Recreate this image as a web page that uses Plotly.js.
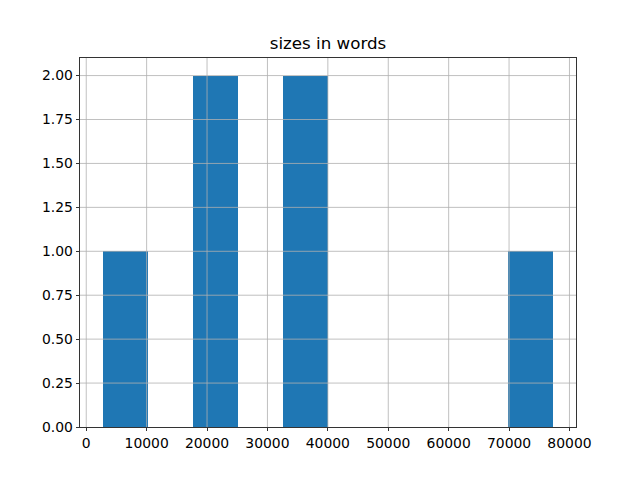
<!DOCTYPE html>
<html>
<head>
<meta charset="utf-8">
<script src="https://cdn.plot.ly/plotly-3.0.1.min.js"></script>
<style>html,body{margin:0;padding:0;background:#fff;}#chart{width:640px;height:480px;}</style>
</head>
<body>
<div id="chart"></div>
<script>
// Word counts of the documents
const sizes = [2700, 20000, 23000, 35000, 38000, 77350];
const nBins = 10;
const titleText = "sizes in words";

// numpy-style histogram binning
const lo = Math.min(...sizes), hi = Math.max(...sizes);
const binW = (hi - lo) / nBins;
const counts = new Array(nBins).fill(0);
sizes.forEach(v => {
  let i = Math.floor((v - lo) / binW);
  if (i >= nBins) i = nBins - 1;
  counts[i]++;
});
const centers = counts.map((_, i) => lo + binW * (i + 0.5));

const span = hi - lo;
const xRange = [lo - 0.05 * span, hi + 0.05 * span];
const yRange = [0, 2.1];

const trace = {
  type: 'bar',
  x: centers,
  y: counts,
  width: binW,
  marker: {color: '#1f77b4', line: {width: 0}},
  hoverinfo: 'x+y'
};

// grid drawn above the bars, like matplotlib's default zorder in pandas hist
const gridShapes = [];
for (let gx = 0; gx <= xRange[1]; gx += 10000) {
  gridShapes.push({type: 'line', layer: 'above', xref: 'x', yref: 'paper', x0: gx, x1: gx, y0: 0, y1: 1,
                   line: {color: '#b0b0b0', width: 0.8}});
}
for (let gy = 0.25; gy <= yRange[1]; gy += 0.25) {
  gridShapes.push({type: 'line', layer: 'above', xref: 'paper', yref: 'y', x0: 0, x1: 1, y0: gy, y1: gy,
                   line: {color: '#b0b0b0', width: 0.8}});
}

const font = {family: 'DejaVu Sans, sans-serif', size: 13.9, color: '#000'};
const layout = {
  width: 640, height: 480,
  margin: {l: 80, r: 64, t: 58, b: 53},
  paper_bgcolor: '#fff', plot_bgcolor: '#fff',
  font: font,
  showlegend: false,
  bargap: 0,
  shapes: gridShapes,
  title: {text: titleText, font: {family: 'DejaVu Sans, sans-serif', size: 16.7, color: '#000'},
          x: 0.5, xanchor: 'center', xref: 'paper', y: 1 - 43/480, yref: 'container', yanchor: 'middle'},
  xaxis: {
    range: xRange,
    tick0: 0, dtick: 10000, tickformat: 'd',
    ticks: 'outside', ticklen: 3.5, tickwidth: 0.8, tickcolor: '#000',
    showline: true, linecolor: '#000', linewidth: 0.8, mirror: true,
    showgrid: false,
    zeroline: false, layer: 'above traces', tickfont: font
  },
  yaxis: {
    range: yRange,
    tick0: 0, dtick: 0.25, tickformat: '.2f',
    ticks: 'outside', ticklen: 3.5, tickwidth: 0.8, tickcolor: '#000',
    showline: true, linecolor: '#000', linewidth: 0.8, mirror: true,
    showgrid: false,
    zeroline: false, layer: 'above traces', tickfont: font
  }
};
Plotly.newPlot('chart', [trace], layout, {staticPlot: true, displayModeBar: false});
</script>
</body>
</html>
